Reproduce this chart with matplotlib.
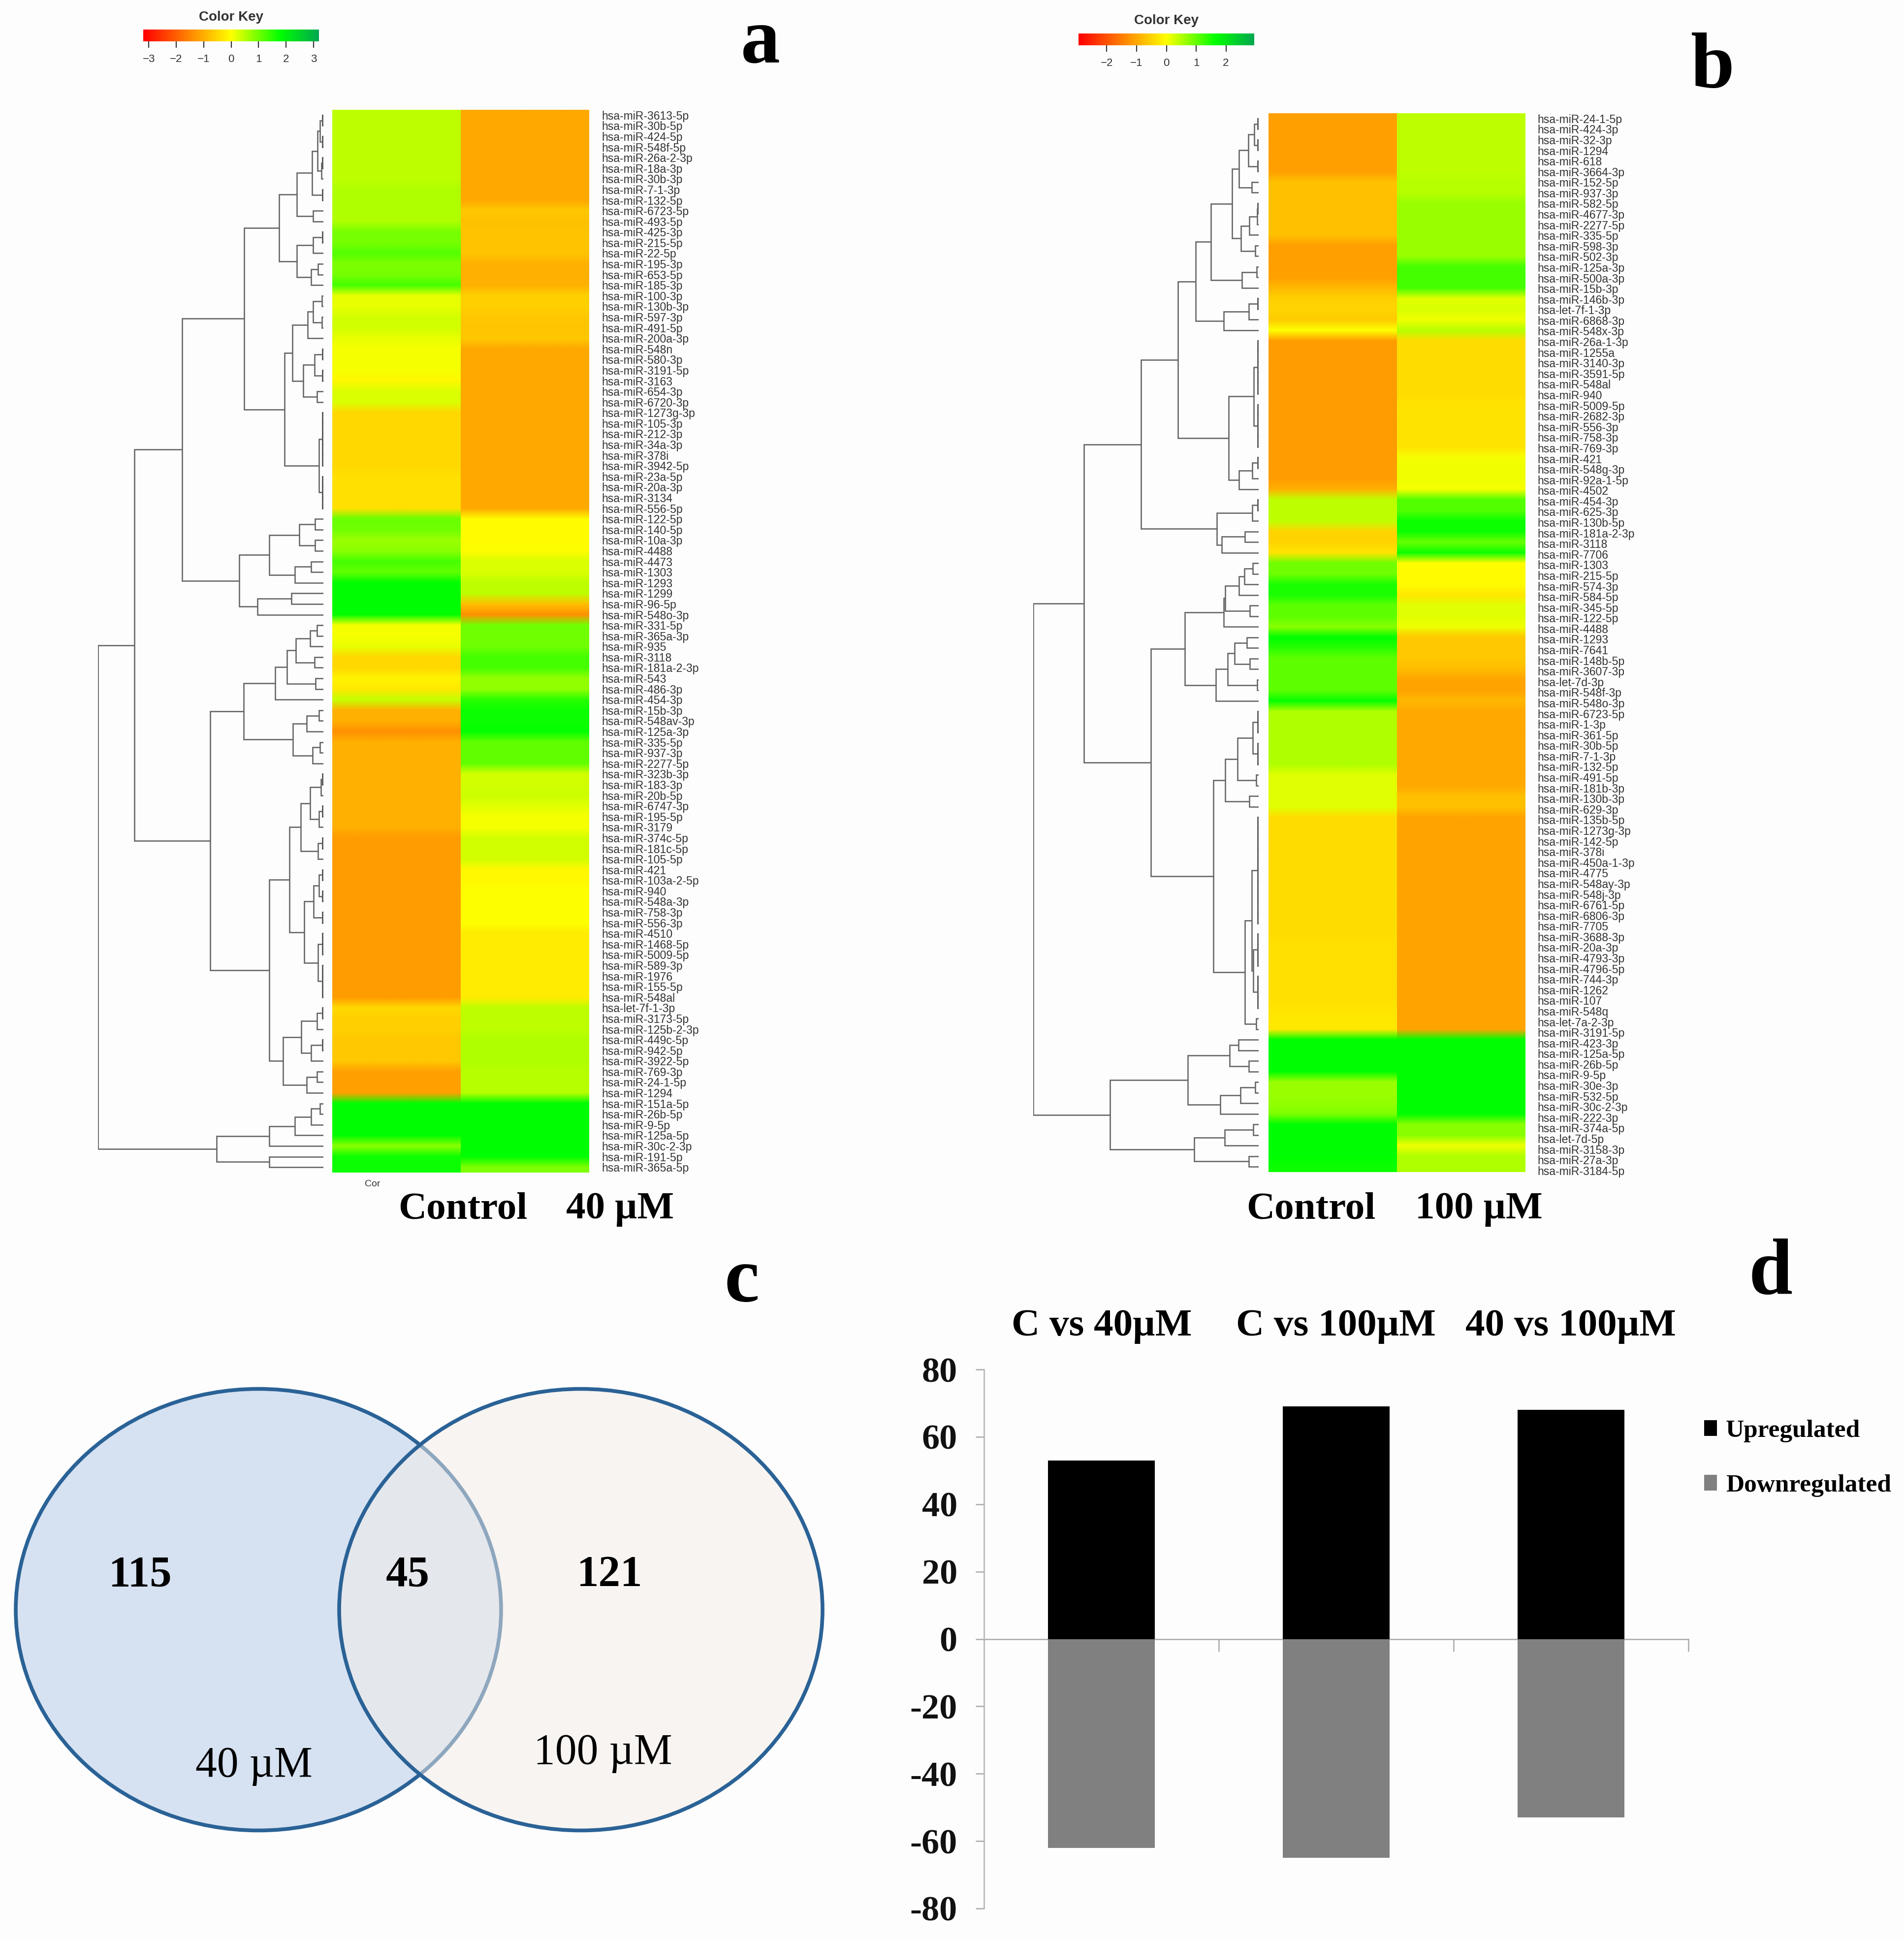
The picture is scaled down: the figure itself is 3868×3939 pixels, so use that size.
import numpy as np
import matplotlib
matplotlib.use("Agg")
import matplotlib.pyplot as plt
from matplotlib.colors import LinearSegmentedColormap
from matplotlib.patches import Ellipse

W, H = 3868, 3939
SANS = "Liberation Sans"
SERIF = "Liberation Serif"

# ---------- data: panel a ----------
labels_a = """hsa-miR-3613-5p hsa-miR-30b-5p hsa-miR-424-5p hsa-miR-548f-5p hsa-miR-26a-2-3p hsa-miR-18a-3p hsa-miR-30b-3p hsa-miR-7-1-3p hsa-miR-132-5p hsa-miR-6723-5p
hsa-miR-493-5p hsa-miR-425-3p hsa-miR-215-5p hsa-miR-22-5p hsa-miR-195-3p hsa-miR-653-5p hsa-miR-185-3p hsa-miR-100-3p hsa-miR-130b-3p hsa-miR-597-3p
hsa-miR-491-5p hsa-miR-200a-3p hsa-miR-548n hsa-miR-580-3p hsa-miR-3191-5p hsa-miR-3163 hsa-miR-654-3p hsa-miR-6720-3p hsa-miR-1273g-3p hsa-miR-105-3p
hsa-miR-212-3p hsa-miR-34a-3p hsa-miR-378i hsa-miR-3942-5p hsa-miR-23a-5p hsa-miR-20a-3p hsa-miR-3134 hsa-miR-556-5p hsa-miR-122-5p hsa-miR-140-5p
hsa-miR-10a-3p hsa-miR-4488 hsa-miR-4473 hsa-miR-1303 hsa-miR-1293 hsa-miR-1299 hsa-miR-96-5p hsa-miR-548o-3p hsa-miR-331-5p hsa-miR-365a-3p
hsa-miR-935 hsa-miR-3118 hsa-miR-181a-2-3p hsa-miR-543 hsa-miR-486-3p hsa-miR-454-3p hsa-miR-15b-3p hsa-miR-548av-3p hsa-miR-125a-3p hsa-miR-335-5p
hsa-miR-937-3p hsa-miR-2277-5p hsa-miR-323b-3p hsa-miR-183-3p hsa-miR-20b-5p hsa-miR-6747-3p hsa-miR-195-5p hsa-miR-3179 hsa-miR-374c-5p hsa-miR-181c-5p
hsa-miR-105-5p hsa-miR-421 hsa-miR-103a-2-5p hsa-miR-940 hsa-miR-548a-3p hsa-miR-758-3p hsa-miR-556-3p hsa-miR-4510 hsa-miR-1468-5p hsa-miR-5009-5p
hsa-miR-589-3p hsa-miR-1976 hsa-miR-155-5p hsa-miR-548al hsa-let-7f-1-3p hsa-miR-3173-5p hsa-miR-125b-2-3p hsa-miR-449c-5p hsa-miR-942-5p hsa-miR-3922-5p
hsa-miR-769-3p hsa-miR-24-1-5p hsa-miR-1294 hsa-miR-151a-5p hsa-miR-26b-5p hsa-miR-9-5p hsa-miR-125a-5p hsa-miR-30c-2-3p hsa-miR-191-5p hsa-miR-365a-5p""".split()

control_a = [0.45, 0.45, 0.45, 0.45, 0.45, 0.45, 0.45, 0.55, 0.55, 0.55,
             0.55, 0.95, 0.95, 1.2, 0.9, 0.95, 1.3, 0.15, 0.15, 0.3,
             0.3, 0.15, 0.05, 0.05, 0.05, -0.1, 0.25, 0.25, -0.5, -0.5,
             -0.5, -0.5, -0.5, -0.5, -0.4, -0.4, -0.4, -0.4, 1.05, 1.0,
             0.7, 0.8, 1.3, 1.1, 1.8, 1.8, 1.8, 1.8, 0.05, 0.05,
             0.15, -0.5, -0.5, -0.15, -0.3, 0.4, -1.0, -1.0, -1.4, -1.0,
             -1.0, -1.0, -1.0, -1.0, -1.0, -1.0, -1.0, -1.0, -1.25, -1.25,
             -1.25, -1.25, -1.25, -1.25, -1.25, -1.25, -1.25, -1.25, -1.25, -1.25,
             -1.25, -1.25, -1.25, -1.25, -0.5, -0.6, -0.6, -0.7, -0.7, -0.7,
             -1.2, -1.2, -1.2, 1.8, 1.8, 1.8, 1.8, 0.8, 1.7, 1.7]
treat_a = [-1.1, -1.1, -1.1, -1.1, -1.1, -1.1, -1.1, -1.1, -1.1, -0.7,
           -0.8, -0.75, -0.75, -0.75, -1.0, -1.0, -1.0, -0.6, -0.6, -0.7,
           -0.75, -0.7, -1.1, -1.1, -1.1, -1.1, -1.1, -1.1, -1.1, -1.1,
           -1.1, -1.1, -1.1, -1.1, -1.1, -1.1, -1.1, -1.1, -0.05, -0.05,
           -0.05, -0.05, 0.25, 0.25, 0.45, 0.45, -0.8, -1.4, 1.0, 1.0,
           1.0, 1.3, 1.3, 0.75, 0.75, 1.5, 1.7, 1.7, 1.75, 1.1,
           1.1, 1.1, 0.3, 0.3, 0.35, 0.2, 0.05, 0.05, 0.3, 0.3,
           0.3, -0.1, -0.1, 0.0, 0.0, 0.0, 0.0, -0.25, -0.25, -0.25,
           -0.25, -0.25, -0.25, -0.25, 0.45, 0.45, 0.45, 0.55, 0.55, 0.55,
           0.5, 0.5, 0.5, 1.8, 1.8, 1.8, 1.8, 1.8, 1.8, 0.9]

tree_a = (513,
  (430,
    (321,
      (180,
        (101,
          (61, (26, (13, (8, 2, 2), (5, 2, 1)), 2), (23, 1, 1)),
          (61, (23, 2, 1), (28, (12, 1, 1), 1))),
        (88,
          (71,
            (36, (23, (3, 1, 1), (3, 1, 1)), 1),
            (46, (20, 2, 2), (15, 1, 1))),
          (10, 6, 4))),
      (191,
        (123, (55, (19, 1, 1), (19, 1, 1)), (65, (28, 1, 1), 1)),
        (150, (73, 1, 1), 1))),
    (258,
      (181,
        (110, (83, (63, (30, (15, 1, 1), 1), (20, 1, 1)), (18, 1, 1)), 1),
        (70, (38, (10, 1, 1), 1), (25, (8, 1, 1), 1))),
      (123,
        (77,
          (51, (30, (6, 2, 1), (10, 2, 1)), (12, 2, 1)),
          (44, (22, (10, 2, 2), 2), (12, 3, 4))),
        (92,
          (50, (15, 2, 1), (28, 2, 1)),
          (38, (15, 1, 1), 1))))),
  (243,
    (123, (65, (28, (8, 1, 1), 1), 1), 1),
    (123, 1, 1)))

# ---------- data: panel b ----------
labels_b = """hsa-miR-24-1-5p hsa-miR-424-3p hsa-miR-32-3p hsa-miR-1294 hsa-miR-618 hsa-miR-3664-3p hsa-miR-152-5p hsa-miR-937-3p hsa-miR-582-5p hsa-miR-4677-3p
hsa-miR-2277-5p hsa-miR-335-5p hsa-miR-598-3p hsa-miR-502-3p hsa-miR-125a-3p hsa-miR-500a-3p hsa-miR-15b-3p hsa-miR-146b-3p hsa-let-7f-1-3p hsa-miR-6868-3p
hsa-miR-548x-3p hsa-miR-26a-1-3p hsa-miR-1255a hsa-miR-3140-3p hsa-miR-3591-5p hsa-miR-548al hsa-miR-940 hsa-miR-5009-5p hsa-miR-2682-3p hsa-miR-556-3p
hsa-miR-758-3p hsa-miR-769-3p hsa-miR-421 hsa-miR-548g-3p hsa-miR-92a-1-5p hsa-miR-4502 hsa-miR-454-3p hsa-miR-625-3p hsa-miR-130b-5p hsa-miR-181a-2-3p
hsa-miR-3118 hsa-miR-7706 hsa-miR-1303 hsa-miR-215-5p hsa-miR-574-3p hsa-miR-584-5p hsa-miR-345-5p hsa-miR-122-5p hsa-miR-4488 hsa-miR-1293
hsa-miR-7641 hsa-miR-148b-5p hsa-miR-3607-3p hsa-let-7d-3p hsa-miR-548f-3p hsa-miR-548o-3p hsa-miR-6723-5p hsa-miR-1-3p hsa-miR-361-5p hsa-miR-30b-5p
hsa-miR-7-1-3p hsa-miR-132-5p hsa-miR-491-5p hsa-miR-181b-3p hsa-miR-130b-3p hsa-miR-629-3p hsa-miR-135b-5p hsa-miR-1273g-3p hsa-miR-142-5p hsa-miR-378i
hsa-miR-450a-1-3p hsa-miR-4775 hsa-miR-548ay-3p hsa-miR-548j-3p hsa-miR-6761-5p hsa-miR-6806-3p hsa-miR-7705 hsa-miR-3688-3p hsa-miR-20a-3p hsa-miR-4793-3p
hsa-miR-4796-5p hsa-miR-744-3p hsa-miR-1262 hsa-miR-107 hsa-miR-548q hsa-let-7a-2-3p hsa-miR-3191-5p hsa-miR-423-3p hsa-miR-125a-5p hsa-miR-26b-5p
hsa-miR-9-5p hsa-miR-30e-3p hsa-miR-532-5p hsa-miR-30c-2-3p hsa-miR-222-3p hsa-miR-374a-5p hsa-let-7d-5p hsa-miR-3158-3p hsa-miR-27a-3p hsa-miR-3184-5p""".split()

control_b = [-1.2, -1.2, -1.2, -1.2, -1.2, -1.2, -0.8, -0.8, -0.8, -0.8,
             -0.8, -0.8, -1.2, -1.2, -1.2, -1.2, -0.9, -0.6, -0.55, -0.65,
             0.0, -1.25, -1.25, -1.25, -1.25, -1.25, -1.25, -1.25, -1.25, -1.25,
             -1.25, -1.25, -1.25, -1.25, -1.25, -1.0, 0.45, 0.45, 0.45, -0.55,
             -0.55, -0.35, 1.0, 1.0, 1.6, 1.6, 1.15, 1.15, 0.85, 1.8,
             1.5, 1.15, 1.15, 1.15, 1.15, 1.75, 0.55, 0.55, 0.55, 0.55,
             0.55, 0.55, 0.2, 0.2, 0.2, 0.2, -0.45, -0.45, -0.45, -0.45,
             -0.45, -0.45, -0.45, -0.45, -0.45, -0.45, -0.45, -0.45, -0.4, -0.4,
             -0.4, -0.4, -0.4, -0.4, -0.35, -0.3, -0.3, 1.8, 1.8, 1.8,
             1.8, 0.7, 0.7, 0.75, 0.9, 1.8, 1.8, 1.8, 1.8, 1.7]
treat_b = [0.45, 0.45, 0.45, 0.45, 0.45, 0.45, 0.5, 0.5, 0.7, 0.7,
           0.7, 0.7, 0.7, 0.7, 1.3, 1.3, 1.3, 0.2, 0.25, 0.1,
           0.5, -0.45, -0.45, -0.45, -0.45, -0.45, -0.45, -0.35, -0.35, -0.35,
           -0.35, -0.35, 0.05, 0.1, 0.1, 0.05, 1.2, 1.2, 1.7, 1.7,
           1.05, 1.7, -0.05, -0.05, -0.05, -0.3, 0.2, 0.2, 0.1, -0.7,
           -0.7, -0.7, -0.85, -1.15, -1.15, -0.9, -1.1, -1.1, -1.1, -1.1,
           -1.1, -1.1, -1.1, -1.1, -0.8, -0.8, -1.15, -1.15, -1.15, -1.15,
           -1.15, -1.15, -1.15, -1.15, -1.15, -1.15, -1.15, -1.15, -1.15, -1.15,
           -1.15, -1.15, -1.15, -1.15, -1.15, -1.15, -1.15, 1.8, 1.8, 1.8,
           1.8, 1.8, 1.8, 1.8, 1.8, 0.85, 0.85, 0.1, 0.55, 0.55]

tree_b = (513,
  (398,
    (268,
      (184,
        (143,
          (109,
            (61,
              (45, (23, (10, 2, 2), 2), (16, 1, 1)),
              (40, (21, (3, 2, 1), 1), (8, 1, 1))),
            (38, (5, 1, 1), 1)),
          (79, (22, 2, 1), 1)),
        (68, (11, 6, 5), (45, (15, 2, 1), 1))),
      (95, (15, 2, 1), (84, (31, 1, 1), 1))),
    (245,
      (168,
        (80, (76, (45, (33, (13, 1, 1), 1), 1), (20, 1, 1)), 1),
        (98, (71, (55, (27, 1, 1), (20, 1, 1)), (3, 1, 1)), 1)),
      (103,
        (76, (48, (13, 3, 3), (6, 1, 1)), (21, 1, 1)),
        (31, (16, 11, (12, 4, 4)), (6, 1, 1))))),
  (338,
    (161, (66, (46, 1, 1), (22, 1, 1)), (87, (41, (8, 1, 1), 1), 1)),
    (147, (77, (12, 1, 1), 1), (22, 1, 1))))

# ---------- data: panels c, d ----------
venn_counts = ["115", "45", "121"]
venn_names = ["40 µM", "100 µM"]
comparisons = ["C vs 40µM", "C vs 100µM", "40 vs 100µM"]
upregulated = [53, 69, 68]
downregulated = [-62, -65, -53]
d_ticks = [80, 60, 40, 20, 0, -20, -40, -60, -80]

# ---------- colours and helpers ----------
BG = "#fdfdfd"
KEY_MAX = 3.2
stops = [(-3.2, "#ff0000"), (0.0, "#ffff00"), (1.8, "#00ff00"), (3.2, "#00a850")]
cmap = LinearSegmentedColormap.from_list(
    "key", [((v + KEY_MAX) / (2 * KEY_MAX), c) for v, c in stops])
TREE = "#666666"

fig = plt.figure(figsize=(W / 100, H / 100), dpi=100, facecolor=BG)


def px_axes(x0, y0, x1, y1, **kw):
    return fig.add_axes([x0 / W, 1 - y1 / H, (x1 - x0) / W, (y1 - y0) / H], **kw)


def draw_tree(ax, node, start=0.0):
    """Draw a nested (height, left, right) tree; an int is a tight group of n leaves."""
    if isinstance(node, int):
        if node == 1:
            return 0.0, start + 0.5, start + 1
        ys = [start + i + 0.5 for i in range(node)]
        for y in ys:
            ax.plot([0, 2], [y, y], color=TREE, lw=1.6, solid_capstyle="butt")
        ax.plot([2, 2], [ys[0], ys[-1]], color="#444444", lw=1.8)
        return 2.0, (ys[0] + ys[-1]) / 2, start + node
    h, left, right = node
    h1, y1, nxt = draw_tree(ax, left, start)
    h2, y2, nxt = draw_tree(ax, right, nxt)
    ax.plot([h1, h, h, h2], [y1, y1, y2, y2], color=TREE, lw=1.9,
            solid_joinstyle="miter", solid_capstyle="butt")
    return h, (y1 + y2) / 2, nxt


def heat_panel(labels, c_vals, t_vals, tree, hx0, hx1, hy0, hy1, tree_right, label_stretch=1.0):
    n = len(labels)
    ax = px_axes(hx0, hy0, hx1, hy1)
    for col, vals in enumerate((c_vals, t_vals)):
        ax.imshow(np.array(vals)[:, None], aspect="auto", cmap=cmap,
                  vmin=-KEY_MAX, vmax=KEY_MAX, extent=(col, col + 1, n, 0),
                  interpolation="bilinear", interpolation_stage="rgba")
    ax.set_xlim(0, 2)
    ax.set_ylim(n, 0)
    ax.set_xticks([])
    ax.yaxis.tick_right()
    ax.set_yticks((np.arange(n) + 0.5) * label_stretch)
    ax.set_yticklabels(labels, fontsize=16.6, family=SANS, color="#333333")
    ax.tick_params(axis="y", length=0, pad=18)
    for s in ax.spines.values():
        s.set_visible(False)

    # 1 height unit is 1/1.12 px
    tx = px_axes(tree_right - 513 / 1.12, hy0, tree_right, hy1)
    tx.set_xlim(513, 0)
    tx.set_ylim(n, 0)
    tx.axis("off")
    tx.patch.set_alpha(0)
    draw_tree(tx, tree)


def color_key(x0, y0, x1, y1, vmax, ticks, tlen):
    ax = px_axes(x0, y0, x1, y1)
    grad = np.linspace(-KEY_MAX, KEY_MAX, 256)[None, :]
    ax.imshow(grad, aspect="auto", cmap=cmap, vmin=-KEY_MAX, vmax=KEY_MAX,
              extent=(-vmax, vmax, 0, 1))
    ax.set_yticks([])
    ax.set_xlim(-vmax, vmax)
    ax.set_xticks(ticks)
    ax.set_xticklabels([str(t).replace("-", "\u2212") for t in ticks],
                       fontsize=16, family=SANS, color="#333333")
    ax.tick_params(axis="x", length=tlen, width=1.6, color="#333333", pad=10)
    for s in ax.spines.values():
        s.set_visible(False)


# ---------- panels a, b ----------
heat_panel(labels_a, control_a, treat_a, tree_a, 675, 1197, 223, 2382, 657)
heat_panel(labels_b, control_b, treat_b, tree_b, 2577, 3098, 230, 2381, 2557, label_stretch=1.0035)
color_key(291, 60, 648, 84, 3.2, [-3, -2, -1, 0, 1, 2, 3], 9)
color_key(2191, 68, 2548, 92, 2.95, [-2, -1, 0, 1, 2], 9)

# ---------- panel d ----------
dx = px_axes(1999, 2782, 3430, 3877, facecolor="none")
xs = np.arange(len(comparisons)) + 0.5
dx.bar(xs, upregulated, width=0.453, color="black", label="Upregulated", zorder=3)
dx.bar(xs, downregulated, width=0.453, color="#808080", label="Downregulated", zorder=3)
dx.set_xlim(0, 3)
dx.set_ylim(-80, 80)
dx.set_yticks(d_ticks)
dx.set_yticklabels([str(t) for t in d_ticks], fontsize=52, family=SERIF,
                   fontweight="bold", color="#111111")
dx.set_xticks([1, 2, 3])
dx.set_xticklabels([])
dx.tick_params(axis="y", length=12, width=2, color="#b0b0b0", pad=27)
dx.tick_params(axis="x", length=18, width=2, color="#b0b0b0", direction="out")
dx.spines["top"].set_visible(False)
dx.spines["right"].set_visible(False)
dx.spines["left"].set_color("#b8b8b8")
dx.spines["left"].set_linewidth(2)
dx.spines["bottom"].set_position(("data", 0))
dx.spines["bottom"].set_color("#b0b0b0")
dx.spines["bottom"].set_linewidth(2)
dx.legend(loc="upper left", bbox_to_anchor=(3462 / W, 1 - 2884 / H),
          bbox_transform=fig.transFigure, frameon=False,
          prop={"family": SERIF, "weight": "bold", "size": 37},
          handlelength=0.5, handleheight=0.6, handletextpad=0.35,
          labelspacing=1.27, borderpad=0, borderaxespad=0)

# ---------- overlay: panel c and free text ----------
ov = fig.add_axes([0, 0, 1, 1], facecolor="none")
ov.set_xlim(0, W)
ov.set_ylim(H, 0)
ov.axis("off")

EDGE = "#2a6296"
ov.add_patch(Ellipse((525, 3270), 986, 897, facecolor="#d6e2f2", edgecolor=EDGE, lw=5.5))
ov.add_patch(Ellipse((1180, 3270), 982, 897, facecolor="#f3ede7", alpha=0.5, edgecolor="none"))
ov.add_patch(Ellipse((1180, 3270), 982, 897, facecolor="none", edgecolor=EDGE, lw=5.5))


def txt(x, y, s, size, weight="bold", family=SERIF, color="black"):
    ov.text(x, y, s, fontsize=size, fontweight=weight, family=family, color=color,
            ha="center", va="center")


for (x, y), s in zip([(285, 3200), (828, 3200), (1239, 3200)], venn_counts):
    txt(x, y, s, 64)
txt(516, 3587, venn_names[0], 63, "normal")
txt(1225, 3561, venn_names[1], 63, "normal")

txt(469, 35, "Color Key", 20, "bold", SANS, "#333333")
txt(2370, 42, "Color Key", 20, "bold", SANS, "#333333")
txt(757, 2406, "Cor", 14, "normal", SANS, "#333333")

txt(940, 2457, "Control", 57)
txt(1260, 2457, "40 µM", 57)
txt(2663, 2457, "Control", 57)
txt(3004, 2457, "100 µM", 57)

for x, s in zip([2238, 2714, 3191], comparisons):
    txt(x, 2694, s, 57)

txt(1545, 87, "a", 115)
txt(3479, 139, "b", 115)
txt(1507, 2605, "c", 115)
txt(3597, 2589, "d", 115)

fig.savefig("out.png", dpi=100, facecolor=BG)
